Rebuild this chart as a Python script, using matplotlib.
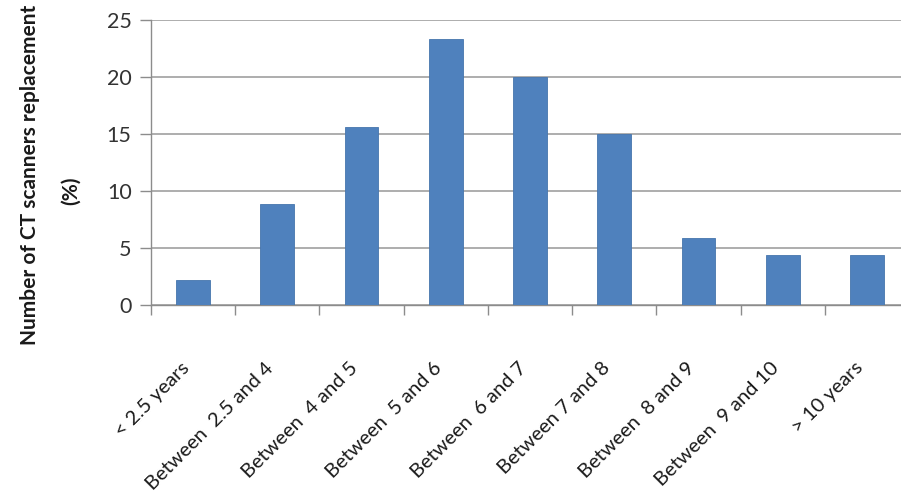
import matplotlib.pyplot as plt
from matplotlib.transforms import ScaledTranslation

# replacement age groups and share of scanners (%)
categories = [
    "< 2.5 years",
    "Between  2.5 and 4",
    "Between  4 and 5",
    "Between  5 and 6",
    "Between  6 and 7",
    "Between 7 and 8",
    "Between  8 and 9",
    "Between  9 and 10",
    "> 10 years",
]
share = [2.2, 8.9, 15.6, 23.3, 20.0, 15.0, 5.9, 4.4, 4.4]
y_ticks = [0, 5, 10, 15, 20, 25]

plt.rcParams["font.family"] = ["Lato", "DejaVu Sans"]

W, H, DPI = 901, 494, 100
fig = plt.figure(figsize=(W / DPI, H / DPI), dpi=DPI)
ax = fig.add_axes([151 / W, (H - 305) / H, (909 - 151) / W, (305 - 20) / H])

x = list(range(len(categories)))
ax.bar(x, share, width=0.4, color="#4F81BD", edgecolor="#4675ad", linewidth=0.6, zorder=3)

ax.set_xlim(-0.5, len(categories) - 0.5)
ax.set_ylim(0, 25)
ax.set_yticks(y_ticks)
ax.yaxis.grid(True, color="#a0a0a0", linewidth=1.2, zorder=0)
ax.set_axisbelow(True)

for side in ("top", "right"):
    ax.spines[side].set_visible(False)
for side in ("left", "bottom"):
    ax.spines[side].set_color("#8c8c8c")
    ax.spines[side].set_linewidth(1.0)

ax.tick_params(axis="y", length=8, width=1, color="#8c8c8c", labelsize=15.5,
               labelcolor="#333333", pad=6)

# category labels at bar centres, tick marks at the category boundaries
ax.set_xticks(x)
ax.set_xticks([i - 0.5 for i in range(len(categories) + 1)], minor=True)
ax.tick_params(axis="x", which="major", length=0, pad=39)
ax.tick_params(axis="x", which="minor", length=7, width=1, color="#8c8c8c")
ax.set_xticklabels(categories, rotation=45, ha="right", va="top",
                   rotation_mode="anchor", fontsize=14.5, color="#1a1a1a")
shift = ScaledTranslation(-9 / 72, 0, fig.dpi_scale_trans)
for lbl in ax.get_xticklabels():
    lbl.set_transform(lbl.get_transform() + shift)

fig.text(30 / W, 1 - 175 / H, "Number of CT scanners replacement", rotation=90,
         ha="center", va="center", fontsize=15, fontweight="bold", color="#1a1a1a")
fig.text(71 / W, 1 - 191 / H, "(%)", rotation=90,
         ha="center", va="center", fontsize=15, fontweight="bold", color="#1a1a1a")

fig.savefig("out.png", dpi=DPI)
